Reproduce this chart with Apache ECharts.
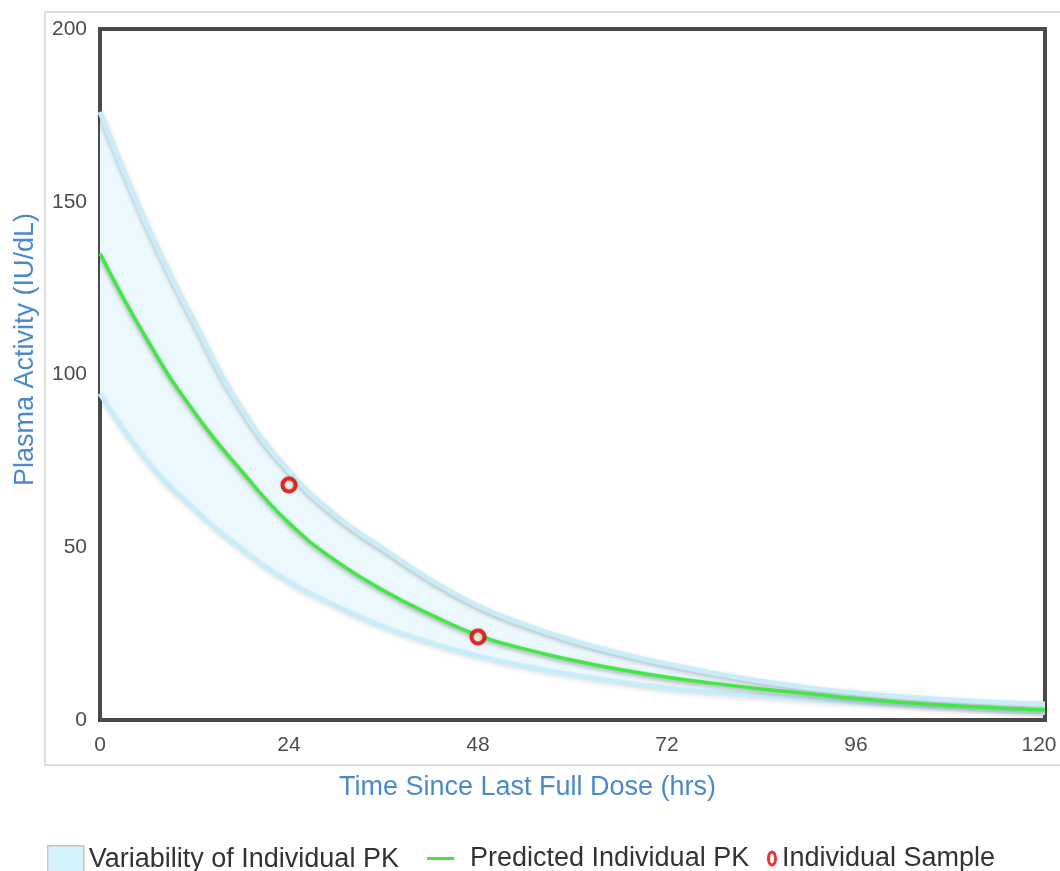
<!DOCTYPE html>
<html>
<head>
<meta charset="utf-8">
<script src="https://cdn.jsdelivr.net/npm/echarts@6/dist/echarts.min.js"></script>
<style>
  html, body { margin: 0; padding: 0; background: #fff; }
  #chart { width: 1060px; height: 871px; }
</style>
</head>
<body>
<div id="chart"></div>
<script>
// hours since last dose (category positions, ticks shown every 24h)
const hours = ['0', '6', '12', '18', '24', '30', '36', '42', '48', '54', '60', '66', '72', '78', '84', '90', '96', '102', '108', '114', '120']
// variability band (IU/dL)
const upperPK = [176, 143, 115, 90, 72, 59, 49.5, 40.5, 33, 27.5, 23, 19.3, 16.2, 13.5, 11.2, 9.3, 7.8, 6.7, 5.8, 5.1, 4.6]
const lowerPK = [94.5, 75, 61, 49.5, 40, 33, 27, 22.3, 18.5, 15.5, 13, 11, 9.2, 8, 7, 6, 5.2, 4.4, 3.6, 2.8, 2.2]
// predicted curve
const predictedPK = [135, 110, 89, 72, 57, 46, 37.5, 30.5, 24.5, 20.5, 17.3, 14.6, 12.4, 10.6, 9, 7.6, 6.2, 5.1, 4.2, 3.5, 2.9]
// measured samples
const sampleHours = ['24', '48']
const sampleValues = [68, 24]

const chart = echarts.init(document.getElementById('chart'))

const edgeLine = {
  color: '#c8edf9',
  width: 5,
  shadowColor: 'rgba(0, 0, 0, 0.25)',
  shadowBlur: 4,
  shadowOffsetY: 2
}

const legendText = { fontSize: 27, color: '#333' }
const ringIcon = 'path://M5,0C8,0 10,3.6 10,8C10,12.4 8,16 5,16C2,16 0,12.4 0,8C0,3.6 2,0 5,0Z' +
  'M5,3C3.6,3 3,5.2 3,8C3,10.8 3.6,13 5,13C6.4,13 7,10.8 7,8C7,5.2 6.4,3 5,3Z'

const option = {
  animation: false,
  textStyle: { fontFamily: 'Liberation Sans, Arial, sans-serif' },
  graphic: [
    {
      type: 'rect',
      silent: true,
      z: -1,
      shape: { x: 45, y: 12, width: 1020, height: 753 },
      style: { fill: 'none', stroke: '#dedede', lineWidth: 2 }
    }
  ],
  grid: {
    left: 100,
    right: 15,
    top: 29,
    bottom: 151,
    outerBoundsMode: 'none',
    containLabel: false,
    show: true,
    borderColor: '#4a4a4a',
    borderWidth: 4,
    backgroundColor: 'transparent'
  },
  legend: [
    {
      left: 42,
      top: 840,
      itemWidth: 36,
      itemHeight: 28,
      textStyle: legendText,
      data: [{
        name: 'Variability of Individual PK',
        icon: 'rect',
        itemStyle: { color: '#d3f2fc', borderColor: '#c4c4c4', borderWidth: 1.5 }
      }]
    },
    {
      left: 422,
      top: 840,
      itemWidth: 27,
      itemHeight: 3,
      textStyle: Object.assign({ padding: [0, 0, 0, 11] }, legendText),
      data: [{
        name: 'Predicted Individual PK',
        icon: 'rect',
        itemStyle: { color: '#45e445', borderWidth: 0, shadowBlur: 0 }
      }]
    },
    {
      left: 762,
      top: 840,
      itemWidth: 10,
      itemHeight: 16,
      textStyle: legendText,
      data: [{
        name: 'Individual Sample',
        icon: ringIcon,
        itemStyle: { color: '#ee0000', borderWidth: 0, shadowBlur: 0 }
      }]
    }
  ],
  xAxis: {
    type: 'category',
    boundaryGap: false,
    data: hours,
    name: 'Time Since Last Full Dose (hrs)',
    nameLocation: 'middle',
    nameGap: 54,
    nameTextStyle: { fontSize: 27, color: '#4a8acb', padding: [0, 90, 0, 0] },
    axisLine: { show: false },
    axisTick: { show: false },
    splitLine: { show: false },
    axisLabel: {
      interval: 3,
      fontSize: 21,
      color: '#4d4d4d',
      margin: 15,
      formatter: (v) => (v === '120' ? '{last|' + v + '}' : v),
      rich: { last: { fontSize: 21, color: '#4d4d4d', padding: [0, 12, 0, 0] } }
    }
  },
  yAxis: {
    type: 'value',
    min: 0,
    max: 200,
    interval: 50,
    name: 'Plasma Activity (IU/dL)',
    nameLocation: 'middle',
    nameGap: 61,
    nameTextStyle: { fontSize: 27, color: '#4a8acb', padding: [0, 0, 0, 50] },
    axisLine: { show: false },
    axisTick: { show: false },
    splitLine: { show: false },
    axisLabel: { fontSize: 21, color: '#4d4d4d', margin: 13 }
  },
  series: [
    {
      name: 'bandBase',
      type: 'line',
      stack: 'band',
      smooth: true,
      symbol: 'none',
      silent: true,
      lineStyle: { opacity: 0 },
      data: lowerPK
    },
    {
      name: 'Variability of Individual PK',
      type: 'line',
      stack: 'band',
      smooth: true,
      symbol: 'none',
      silent: true,
      itemStyle: { color: '#d3f2fc' },
      lineStyle: { opacity: 0 },
      areaStyle: { color: '#ebf9fe', opacity: 1 },
      data: upperPK.map((u, i) => u - lowerPK[i])
    },
    {
      name: 'upperEdge',
      type: 'line',
      smooth: true,
      symbol: 'none',
      silent: true,
      lineStyle: edgeLine,
      data: upperPK
    },
    {
      name: 'lowerEdge',
      type: 'line',
      smooth: true,
      symbol: 'none',
      silent: true,
      lineStyle: Object.assign({}, edgeLine, { shadowColor: 'rgba(0,0,0,0.12)' }),
      data: lowerPK
    },
    {
      name: 'Predicted Individual PK',
      type: 'line',
      smooth: true,
      symbol: 'none',
      itemStyle: { color: '#45e445' },
      lineStyle: {
        color: '#42e842',
        width: 3.5,
        shadowColor: 'rgba(0, 0, 0, 0.35)',
        shadowBlur: 4,
        shadowOffsetY: 2
      },
      data: predictedPK
    },
    {
      name: 'Individual Sample',
      type: 'scatter',
      symbol: 'circle',
      symbolSize: 13,
      itemStyle: {
        color: '#fff',
        borderColor: '#ee0000',
        borderWidth: 4,
        shadowColor: 'rgba(0,0,0,0.3)',
        shadowBlur: 3
      },
      z: 5,
      data: sampleHours.map((h, i) => [h, sampleValues[i]])
    }
  ]
}

chart.setOption(option)
</script>
</body>
</html>
